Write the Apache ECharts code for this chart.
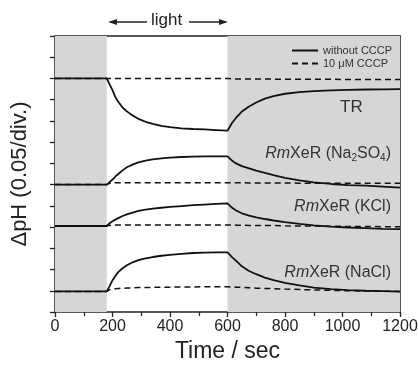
<!DOCTYPE html>
<html><head><meta charset="utf-8">
<script src="https://cdn.jsdelivr.net/npm/echarts@6/dist/echarts.min.js"></script>
<style>html,body{margin:0;padding:0;background:#fff}#c{width:418px;height:365px}</style>
</head><body><div id="c"></div>
<script>
// Time axis (s)
var time = [0,180,190,200,210,220,235,250,270,290,315,340,370,400,440,480,520,560,600,605,615,630,650,675,700,730,760,800,850,900,960,1020,1080,1140,1200];
// ΔpH in divisions (0.05 pH per division), traces offset vertically
var trSolid   = [11,11,10.72,10.45,10.12,9.9,9.63,9.45,9.26,9.1,8.96,8.86,8.77,8.71,8.65,8.62,8.6,8.57,8.54,8.62,8.89,9.15,9.44,9.68,9.87,10.05,10.17,10.28,10.36,10.4,10.44,10.46,10.48,10.49,10.5];
var trDash    = [11,11,11,11,11,11,11,11,11,11,11,11,11,11,11,11,11,11,11,10.99,10.99,10.98,10.98,10.98,10.97,10.97,10.97,10.96,10.96,10.96,10.96,10.95,10.95,10.95,10.95];
var naSO4Solid= [6,6,6.12,6.24,6.38,6.5,6.67,6.82,6.94,7.05,7.13,7.19,7.24,7.27,7.3,7.32,7.33,7.33,7.33,7.28,7.14,7.0,6.87,6.76,6.66,6.55,6.45,6.32,6.2,6.11,6.03,5.98,5.95,5.91,5.86];
var naSO4Dash = [6,6,6.06,6.08,6.09,6.09,6.09,6.09,6.09,6.09,6.09,6.09,6.09,6.09,6.09,6.09,6.09,6.09,6.09,6.09,6.09,6.09,6.09,6.08,6.08,6.08,6.08,6.08,6.07,6.07,6.07,6.07,6.06,6.06,6.06];
var kclSolid  = [4.05,4.05,4.18,4.27,4.35,4.42,4.52,4.6,4.68,4.76,4.82,4.87,4.91,4.95,4.99,5.03,5.06,5.09,5.12,5.07,4.92,4.78,4.65,4.54,4.46,4.38,4.31,4.23,4.15,4.08,4.02,3.98,3.95,3.92,3.9];
var kclDash   = [4.05,4.05,4.08,4.09,4.1,4.1,4.1,4.1,4.1,4.1,4.1,4.1,4.1,4.1,4.1,4.1,4.1,4.1,4.1,4.1,4.1,4.09,4.09,4.08,4.08,4.07,4.07,4.06,4.05,4.05,4.04,4.03,4.03,4.02,4.02];
var naclSolid = [0.97,0.97,1.22,1.5,1.7,1.88,2.06,2.2,2.34,2.44,2.53,2.59,2.65,2.69,2.74,2.78,2.8,2.81,2.81,2.74,2.6,2.41,2.15,1.93,1.78,1.62,1.5,1.37,1.25,1.15,1.08,1.03,1.0,0.98,0.96];
var naclDash  = [0.97,0.97,1.05,1.08,1.1,1.11,1.12,1.13,1.14,1.15,1.15,1.16,1.17,1.17,1.18,1.18,1.19,1.19,1.19,1.19,1.18,1.17,1.16,1.14,1.12,1.11,1.1,1.08,1.06,1.04,1.02,1.0,0.99,0.98,0.97];
var darkPeriods = [[0,180],[600,1200]];
var xTicks = [0,200,400,600,800,1000,1200];
var legendNames = ['without CCCP','10 μM CCCP'];

function pairs(v){ return time.map(function(t,i){ return [t, v[i]]; }); }
function mk(name, v, dashed){
  return {
    name: name, type: 'line', data: pairs(v), symbol: 'none', smooth: false, animation: false,
    lineStyle: dashed ? {color:'#111', width:1.5, type:[6,4]} : {color:'#111', width:1.8},
    itemStyle: {color:'#111'}, z: 3
  };
}
var series = [
  mk(legendNames[0], trSolid, false), mk(legendNames[1], trDash, true),
  mk(legendNames[0], naSO4Solid, false), mk(legendNames[1], naSO4Dash, true),
  mk(legendNames[0], kclSolid, false), mk(legendNames[1], kclDash, true),
  mk(legendNames[0], naclSolid, false), mk(legendNames[1], naclDash, true)
];
series[0].markArea = {
  silent: true, itemStyle: {color:'#d6d6d6'},
  data: darkPeriods.map(function(p){ return [{xAxis:p[0]},{xAxis:p[1]}]; })
};

var FF = '"Liberation Sans", Arial, sans-serif';
var chart = echarts.init(document.getElementById('c'), null, {renderer:'canvas'});
function richLbl(){
  return {
    i:{fontFamily:'Liberation Sans', fontStyle:'italic', fontSize:16, fill:'#333', color:'#333'},
    n:{fontFamily:'Liberation Sans', fontSize:16, fill:'#333', color:'#333'},
    s:{fontFamily:'Liberation Sans', fontSize:10, fill:'#333', color:'#333', padding:[8,0,0,0]}
  };
}
chart.setOption({
  animation: false,
  grid: {left:55, right:18, top:36, bottom:53, containLabel:false, outerBoundsMode:'none'},
  legend: {
    data: legendNames, orient:'vertical', left:286, top:40, itemGap:2,
    itemWidth:26, itemHeight:10,
    itemStyle: {opacity:0},
    textStyle: {fontFamily:FF, fontSize:11, color:'#333'}
  },
  xAxis: [{
    type:'value', min:0, max:1200, interval:200,
    name:'Time / sec', nameLocation:'middle', nameGap:27,
    nameTextStyle:{fontFamily:FF, fontSize:23, color:'#222', verticalAlign:'top'},
    axisLine:{show:true, onZero:false, lineStyle:{color:'#222', width:1.5}},
    axisTick:{show:true, length:5, lineStyle:{color:'#222', width:1.3}},
    minorTick:{show:true, splitNumber:2, length:4, lineStyle:{color:'#222', width:1.2}},
    axisLabel:{fontFamily:FF, fontSize:16, color:'#222', margin:7,
      formatter:function(v){ return xTicks.indexOf(v) >= 0 ? String(v) : ''; }},
    splitLine:{show:false}
  },{
    type:'value', position:'top', min:0, max:1200,
    axisLine:{show:true, onZero:false, lineStyle:{color:'#222', width:1.5}},
    axisTick:{show:false}, axisLabel:{show:false}, splitLine:{show:false}
  }],
  yAxis: [{
    type:'value', min:0, max:13, interval:1,
    name:'ΔpH (0.05/div.)', nameLocation:'middle', nameGap:24,
    nameTextStyle:{fontFamily:FF, fontSize:22, color:'#222'},
    axisLine:{show:true, onZero:false, lineStyle:{color:'#222', width:1.5}},
    axisTick:{show:true, length:5, lineStyle:{color:'#222', width:1.3}},
    axisLabel:{show:false}, splitLine:{show:false}
  },{
    type:'value', position:'right', min:0, max:13,
    axisLine:{show:true, onZero:false, lineStyle:{color:'#222', width:1.5}},
    axisTick:{show:false}, axisLabel:{show:false}, splitLine:{show:false}
  }],
  series: series,
  graphic: [
    {type:'text', z:100, left:151, top:12, style:{text:'light', font:'17px "Liberation Sans", Arial, sans-serif', fill:'#222'}},
    {type:'line', z:100, shape:{x1:114, y1:22, x2:147, y2:22}, style:{stroke:'#222', lineWidth:1.3}},
    {type:'polygon', z:100, shape:{points:[[108,22],[117,19],[117,25]]}, style:{fill:'#222'}},
    {type:'line', z:100, shape:{x1:189, y1:22, x2:222, y2:22}, style:{stroke:'#222', lineWidth:1.3}},
    {type:'polygon', z:100, shape:{points:[[228,22],[219,19],[219,25]]}, style:{fill:'#222'}},
    {type:'text', z:100, left:340, top:99, style:{text:'TR', font:'17px "Liberation Sans", Arial, sans-serif', fill:'#333'}},
    {type:'text', z:100, right:27, top:146, style:{text:'{i|Rm}{n|XeR (Na}{s|2}{n|SO}{s|4}{n|)}', rich:richLbl()}},
    {type:'text', z:100, right:27, top:199, style:{text:'{i|Rm}{n|XeR (KCl)}', rich:richLbl()}},
    {type:'text', z:100, right:27, top:265, style:{text:'{i|Rm}{n|XeR (NaCl)}', rich:richLbl()}}
  ]
});
</script></body></html>
